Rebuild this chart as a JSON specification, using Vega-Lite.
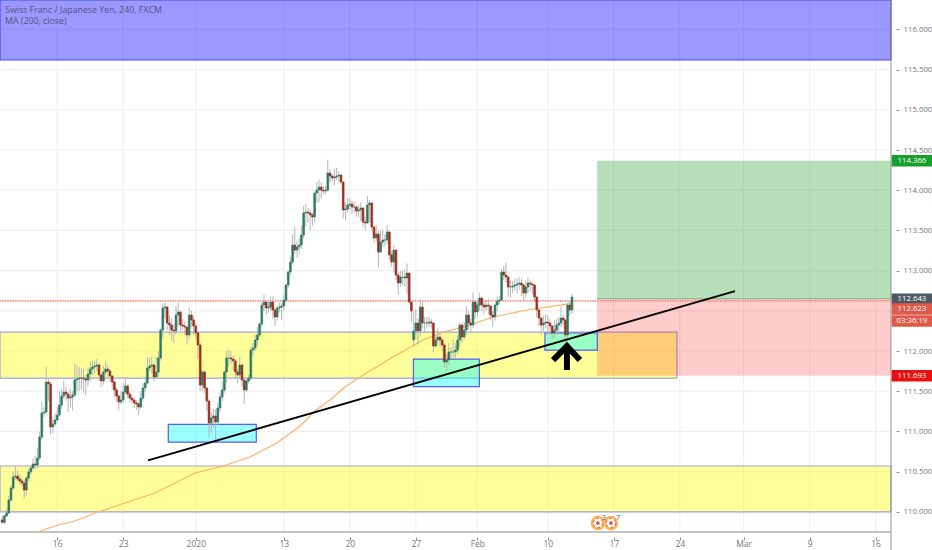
{
  "$schema": "https://vega.github.io/schema/vega-lite/v6.json",
  "width": 932,
  "height": 550,
  "autosize": {"type": "fit", "contains": "padding"},
  "padding": {"left": -5, "top": -5, "right": -5, "bottom": -5},
  "background": "#ffffff",
  "resolve": {"scale": {"color": "independent"}},
  "datasets": {
    "gridX": [
      {"bar": 26, "low": 109.749, "high": 116.366}, {"bar": 56, "low": 109.749, "high": 116.366},
      {"bar": 89, "low": 109.749, "high": 116.366}, {"bar": 129, "low": 109.749, "high": 116.366},
      {"bar": 159, "low": 109.749, "high": 116.366}, {"bar": 189, "low": 109.749, "high": 116.366},
      {"bar": 217, "low": 109.749, "high": 116.366}, {"bar": 249, "low": 109.749, "high": 116.366},
      {"bar": 279, "low": 109.749, "high": 116.366}, {"bar": 309, "low": 109.749, "high": 116.366},
      {"bar": 338, "low": 109.749, "high": 116.366}, {"bar": 368, "low": 109.749, "high": 116.366},
      {"bar": 398, "low": 109.749, "high": 116.366}
    ],
    "gridY": [
      {"price": 110, "start": 0, "end": 405}, {"price": 110.5, "start": 0, "end": 405},
      {"price": 111, "start": 0, "end": 405}, {"price": 111.5, "start": 0, "end": 405},
      {"price": 112, "start": 0, "end": 405}, {"price": 112.5, "start": 0, "end": 405},
      {"price": 113, "start": 0, "end": 405}, {"price": 113.5, "start": 0, "end": 405},
      {"price": 114, "start": 0, "end": 405}, {"price": 114.5, "start": 0, "end": 405},
      {"price": 115, "start": 0, "end": 405}, {"price": 115.5, "start": 0, "end": 405},
      {"price": 116, "start": 0, "end": 405}
    ],
    "zones": [
      {"kind": "blue", "start": 0, "end": 405, "top": 116.366, "bottom": 115.62},
      {"kind": "yellow", "start": 0, "end": 307.7, "top": 112.236, "bottom": 111.664},
      {"kind": "yellow", "start": 0, "end": 405, "top": 110.57, "bottom": 110.0},
      {"kind": "green", "start": 271.4, "end": 405, "top": 114.366, "bottom": 112.643},
      {"kind": "pink", "start": 271.4, "end": 405, "top": 112.643, "bottom": 111.693},
      {"kind": "cyan", "start": 76.5, "end": 116.5, "top": 111.087, "bottom": 110.868},
      {"kind": "cyan", "start": 187.9, "end": 217.9, "top": 111.9, "bottom": 111.556},
      {"kind": "cyan", "start": 247.7, "end": 271.5, "top": 112.224, "bottom": 112.01},
      {"kind": "frame", "start": 404.8, "end": 405.2, "top": 116.366, "bottom": 109.525},
      {"kind": "frame", "start": 0, "end": 405, "top": 109.755, "bottom": 109.743}
    ],
    "levels": [
      {"name": "last", "start": 0, "end": 405, "price": 112.623},
      {"name": "entry", "start": 271.4, "end": 405, "price": 112.65}
    ],
    "ma": [
      {"bar": 17, "price": 109.749}, {"bar": 26.4, "price": 109.836}, {"bar": 34.1, "price": 109.886},
      {"bar": 44.5, "price": 109.998}, {"bar": 56.8, "price": 110.11}, {"bar": 70.5, "price": 110.234},
      {"bar": 79.5, "price": 110.358}, {"bar": 88.6, "price": 110.483}, {"bar": 101.4, "price": 110.57},
      {"bar": 113.6, "price": 110.681}, {"bar": 125.9, "price": 110.856}, {"bar": 136.4, "price": 111.067},
      {"bar": 143.2, "price": 111.254}, {"bar": 150, "price": 111.39}, {"bar": 156.8, "price": 111.552},
      {"bar": 163.6, "price": 111.677}, {"bar": 178.6, "price": 111.925}, {"bar": 192.3, "price": 112.137},
      {"bar": 201.4, "price": 112.236}, {"bar": 210.5, "price": 112.298}, {"bar": 224.1, "price": 112.423},
      {"bar": 239.5, "price": 112.51}, {"bar": 257.7, "price": 112.584}, {"bar": 260, "price": 112.597}
    ],
    "trend": [{"bar": 67.3, "price": 110.64}, {"bar": 334.1, "price": 112.746}],
    "arrow": [
      {"part": "head", "bar": 251.4, "price": 111.888},
      {"part": "head", "bar": 257.7, "price": 112.062},
      {"part": "head", "bar": 263.6, "price": 111.888},
      {"part": "shaft", "bar": 257.7, "price": 112.04},
      {"part": "shaft", "bar": 257.7, "price": 111.764}
    ],
    "tags": [
      {"label": "114.366", "kind": "target", "price": 114.366, "left": 405.3, "right": 423.64, "mid": 414.5},
      {"label": "112.643", "kind": "entry", "price": 112.643, "left": 405.3, "right": 423.64, "mid": 414.5},
      {"label": "112.623", "kind": "last", "price": 112.522, "left": 405.3, "right": 423.64, "mid": 414.5},
      {"label": "03:36:19", "kind": "last", "price": 112.373, "left": 405.3, "right": 423.64, "mid": 414.5},
      {"label": "111.693", "kind": "stop", "price": 111.693, "left": 405.3, "right": 423.64, "mid": 414.5}
    ],
    "captions": [
      {"text": "Swiss Franc / Japanese Yen, 240, FXCM", "bar": 2.3, "price": 116.24},
      {"text": "MA (200, close)", "bar": 2.3, "price": 116.1}
    ],
    "events": [
      {"bar": 271.8, "price": 109.86, "count": "3", "labelBar": 274.5},
      {"bar": 277.7, "price": 109.86, "count": "7", "labelBar": 281}
    ],
    "candles": [
      {"bar":1,"open":109.9,"high":109.95,"low":109.85,"close":109.87},
      {"bar":2,"open":109.87,"high":109.96,"low":109.85,"close":109.95},
      {"bar":3,"open":109.95,"high":110.03,"low":109.93,"close":109.985},
      {"bar":4,"open":109.985,"high":110.2,"low":109.97,"close":110.147},
      {"bar":5,"open":110.147,"high":110.33,"low":110.12,"close":110.296},
      {"bar":6,"open":110.296,"high":110.5,"low":110.27,"close":110.433},
      {"bar":7,"open":110.433,"high":110.56,"low":110.4,"close":110.445},
      {"bar":8,"open":110.445,"high":110.52,"low":110.38,"close":110.408},
      {"bar":9,"open":110.408,"high":110.47,"low":110.34,"close":110.383},
      {"bar":10,"open":110.383,"high":110.43,"low":110.32,"close":110.358},
      {"bar":11,"open":110.358,"high":110.4,"low":110.17,"close":110.27},
      {"bar":12,"open":110.27,"high":110.44,"low":110.2,"close":110.42},
      {"bar":13,"open":110.42,"high":110.53,"low":110.38,"close":110.495},
      {"bar":14,"open":110.495,"high":110.58,"low":110.46,"close":110.545},
      {"bar":15,"open":110.545,"high":110.66,"low":110.52,"close":110.594},
      {"bar":16,"open":110.594,"high":110.7,"low":110.53,"close":110.582},
      {"bar":17,"open":110.582,"high":110.8,"low":110.55,"close":110.669},
      {"bar":18,"open":110.669,"high":111.0,"low":110.64,"close":110.93},
      {"bar":19,"open":110.93,"high":111.37,"low":110.9,"close":111.229},
      {"bar":20,"open":111.229,"high":111.3,"low":111.18,"close":111.241},
      {"bar":21,"open":111.241,"high":111.8,"low":111.2,"close":111.614},
      {"bar":22,"open":111.614,"high":111.66,"low":111.38,"close":111.59},
      {"bar":23,"open":111.59,"high":111.62,"low":110.96,"close":111.055},
      {"bar":24,"open":111.055,"high":111.16,"low":110.98,"close":111.092},
      {"bar":25,"open":111.092,"high":111.22,"low":111.06,"close":111.142},
      {"bar":26,"open":111.142,"high":111.3,"low":111.13,"close":111.204},
      {"bar":27,"open":111.204,"high":111.5,"low":111.18,"close":111.328},
      {"bar":28,"open":111.328,"high":111.52,"low":111.28,"close":111.44},
      {"bar":29,"open":111.44,"high":111.63,"low":111.4,"close":111.49},
      {"bar":30,"open":111.49,"high":111.56,"low":111.38,"close":111.465},
      {"bar":31,"open":111.465,"high":111.5,"low":111.24,"close":111.415},
      {"bar":32,"open":111.415,"high":111.53,"low":111.3,"close":111.428},
      {"bar":33,"open":111.428,"high":111.5,"low":111.26,"close":111.453},
      {"bar":34,"open":111.453,"high":111.84,"low":111.43,"close":111.639},
      {"bar":35,"open":111.639,"high":111.82,"low":111.5,"close":111.652},
      {"bar":36,"open":111.652,"high":111.8,"low":111.5,"close":111.664},
      {"bar":37,"open":111.664,"high":111.78,"low":111.52,"close":111.664},
      {"bar":38,"open":111.664,"high":111.78,"low":111.48,"close":111.652},
      {"bar":39,"open":111.652,"high":111.7,"low":111.45,"close":111.639},
      {"bar":40,"open":111.639,"high":111.8,"low":111.56,"close":111.714},
      {"bar":41,"open":111.714,"high":111.87,"low":111.62,"close":111.776},
      {"bar":42,"open":111.776,"high":111.88,"low":111.7,"close":111.801},
      {"bar":43,"open":111.801,"high":111.88,"low":111.72,"close":111.813},
      {"bar":44,"open":111.813,"high":111.9,"low":111.75,"close":111.826},
      {"bar":45,"open":111.826,"high":111.85,"low":111.63,"close":111.702},
      {"bar":46,"open":111.702,"high":111.72,"low":111.55,"close":111.627},
      {"bar":47,"open":111.627,"high":111.82,"low":111.58,"close":111.739},
      {"bar":48,"open":111.739,"high":111.87,"low":111.7,"close":111.776},
      {"bar":49,"open":111.776,"high":111.83,"low":111.68,"close":111.751},
      {"bar":50,"open":111.751,"high":111.77,"low":111.62,"close":111.689},
      {"bar":51,"open":111.689,"high":111.7,"low":111.53,"close":111.614},
      {"bar":52,"open":111.614,"high":111.63,"low":111.43,"close":111.515},
      {"bar":53,"open":111.515,"high":111.55,"low":111.37,"close":111.44},
      {"bar":54,"open":111.44,"high":111.46,"low":111.26,"close":111.366},
      {"bar":55,"open":111.366,"high":111.5,"low":111.34,"close":111.391},
      {"bar":56,"open":111.391,"high":111.6,"low":111.36,"close":111.49},
      {"bar":57,"open":111.49,"high":111.67,"low":111.46,"close":111.565},
      {"bar":58,"open":111.565,"high":111.58,"low":111.42,"close":111.465},
      {"bar":59,"open":111.465,"high":111.5,"low":111.36,"close":111.415},
      {"bar":60,"open":111.415,"high":111.45,"low":111.35,"close":111.391},
      {"bar":61,"open":111.391,"high":111.42,"low":111.29,"close":111.354},
      {"bar":62,"open":111.354,"high":111.39,"low":111.27,"close":111.341},
      {"bar":63,"open":111.341,"high":111.37,"low":111.2,"close":111.304},
      {"bar":64,"open":111.304,"high":111.5,"low":111.28,"close":111.415},
      {"bar":65,"open":111.415,"high":111.6,"low":111.38,"close":111.54},
      {"bar":66,"open":111.54,"high":111.68,"low":111.5,"close":111.602},
      {"bar":67,"open":111.602,"high":111.92,"low":111.58,"close":111.789},
      {"bar":68,"open":111.789,"high":111.92,"low":111.75,"close":111.813},
      {"bar":69,"open":111.813,"high":111.93,"low":111.72,"close":111.826},
      {"bar":70,"open":111.826,"high":111.85,"low":111.62,"close":111.677},
      {"bar":71,"open":111.677,"high":111.93,"low":111.65,"close":111.739},
      {"bar":72,"open":111.739,"high":112.0,"low":111.68,"close":111.913},
      {"bar":73,"open":111.913,"high":112.28,"low":111.88,"close":112.261},
      {"bar":74,"open":112.261,"high":112.58,"low":112.15,"close":112.535},
      {"bar":75,"open":112.535,"high":112.6,"low":112.4,"close":112.547},
      {"bar":76,"open":112.547,"high":112.56,"low":112.26,"close":112.348},
      {"bar":77,"open":112.348,"high":112.45,"low":112.2,"close":112.323},
      {"bar":78,"open":112.323,"high":112.4,"low":112.13,"close":112.261},
      {"bar":79,"open":112.261,"high":112.33,"low":112.1,"close":112.249},
      {"bar":80,"open":112.249,"high":112.56,"low":112.2,"close":112.448},
      {"bar":81,"open":112.448,"high":112.6,"low":112.3,"close":112.485},
      {"bar":82,"open":112.485,"high":112.5,"low":112.25,"close":112.323},
      {"bar":83,"open":112.323,"high":112.4,"low":112.26,"close":112.311},
      {"bar":84,"open":112.311,"high":112.37,"low":112.2,"close":112.298},
      {"bar":85,"open":112.298,"high":112.3,"low":112.08,"close":112.199},
      {"bar":86,"open":112.199,"high":112.54,"low":112.15,"close":112.448},
      {"bar":87,"open":112.448,"high":112.5,"low":112.3,"close":112.386},
      {"bar":88,"open":112.386,"high":112.43,"low":112.2,"close":112.311},
      {"bar":89,"open":112.311,"high":112.35,"low":112.15,"close":112.224},
      {"bar":90,"open":112.224,"high":112.25,"low":111.9,"close":112.075},
      {"bar":91,"open":112.075,"high":112.1,"low":111.5,"close":111.577},
      {"bar":92,"open":111.577,"high":111.76,"low":111.5,"close":111.739},
      {"bar":93,"open":111.739,"high":111.76,"low":111.48,"close":111.54},
      {"bar":94,"open":111.54,"high":111.55,"low":111.26,"close":111.378},
      {"bar":95,"open":111.378,"high":111.4,"low":110.93,"close":111.104},
      {"bar":96,"open":111.104,"high":111.24,"low":110.98,"close":111.167},
      {"bar":97,"open":111.167,"high":111.28,"low":111.05,"close":111.192},
      {"bar":98,"open":111.192,"high":111.27,"low":110.88,"close":111.117},
      {"bar":99,"open":111.117,"high":111.35,"low":111.08,"close":111.291},
      {"bar":100,"open":111.291,"high":111.48,"low":111.24,"close":111.428},
      {"bar":101,"open":111.428,"high":111.62,"low":111.38,"close":111.515},
      {"bar":102,"open":111.515,"high":111.76,"low":111.48,"close":111.739},
      {"bar":103,"open":111.739,"high":112.0,"low":111.6,"close":111.913},
      {"bar":104,"open":111.913,"high":112.02,"low":111.8,"close":111.913},
      {"bar":105,"open":111.913,"high":112.0,"low":111.84,"close":111.9},
      {"bar":106,"open":111.9,"high":111.94,"low":111.75,"close":111.876},
      {"bar":107,"open":111.876,"high":111.9,"low":111.65,"close":111.739},
      {"bar":108,"open":111.739,"high":111.78,"low":111.6,"close":111.702},
      {"bar":109,"open":111.702,"high":111.93,"low":111.66,"close":111.826},
      {"bar":110,"open":111.826,"high":111.84,"low":111.55,"close":111.639},
      {"bar":111,"open":111.639,"high":111.65,"low":111.34,"close":111.515},
      {"bar":112,"open":111.515,"high":111.66,"low":111.49,"close":111.627},
      {"bar":113,"open":111.627,"high":111.7,"low":111.6,"close":111.664},
      {"bar":114,"open":111.664,"high":112.05,"low":111.64,"close":112.012},
      {"bar":115,"open":112.012,"high":112.1,"low":111.93,"close":112.037},
      {"bar":116,"open":112.037,"high":112.2,"low":112.0,"close":112.137},
      {"bar":117,"open":112.137,"high":112.3,"low":112.06,"close":112.199},
      {"bar":118,"open":112.199,"high":112.36,"low":112.17,"close":112.336},
      {"bar":119,"open":112.336,"high":112.62,"low":112.3,"close":112.572},
      {"bar":120,"open":112.572,"high":112.7,"low":112.5,"close":112.61},
      {"bar":121,"open":112.61,"high":112.62,"low":112.45,"close":112.535},
      {"bar":122,"open":112.535,"high":112.62,"low":112.47,"close":112.547},
      {"bar":123,"open":112.547,"high":112.68,"low":112.5,"close":112.61},
      {"bar":124,"open":112.61,"high":112.68,"low":112.4,"close":112.51},
      {"bar":125,"open":112.51,"high":112.54,"low":112.31,"close":112.423},
      {"bar":126,"open":112.423,"high":112.57,"low":112.38,"close":112.535},
      {"bar":127,"open":112.535,"high":112.6,"low":112.48,"close":112.547},
      {"bar":128,"open":112.547,"high":112.6,"low":112.38,"close":112.56},
      {"bar":129,"open":112.56,"high":112.7,"low":112.5,"close":112.634},
      {"bar":130,"open":112.634,"high":112.83,"low":112.6,"close":112.821},
      {"bar":131,"open":112.821,"high":113.0,"low":112.78,"close":112.983},
      {"bar":132,"open":112.983,"high":113.17,"low":112.95,"close":113.107},
      {"bar":133,"open":113.107,"high":113.45,"low":113.08,"close":113.319},
      {"bar":134,"open":113.319,"high":113.54,"low":113.2,"close":113.256},
      {"bar":135,"open":113.256,"high":113.37,"low":113.16,"close":113.294},
      {"bar":136,"open":113.294,"high":113.4,"low":113.2,"close":113.319},
      {"bar":137,"open":113.319,"high":113.56,"low":113.27,"close":113.443},
      {"bar":138,"open":113.443,"high":113.8,"low":113.4,"close":113.717},
      {"bar":139,"open":113.717,"high":113.83,"low":113.55,"close":113.729},
      {"bar":140,"open":113.729,"high":113.78,"low":113.6,"close":113.717},
      {"bar":141,"open":113.717,"high":113.76,"low":113.5,"close":113.692},
      {"bar":142,"open":113.692,"high":113.72,"low":113.56,"close":113.667},
      {"bar":143,"open":113.667,"high":113.98,"low":113.6,"close":113.965},
      {"bar":144,"open":113.965,"high":114.1,"low":113.84,"close":114.002},
      {"bar":145,"open":114.002,"high":114.13,"low":113.85,"close":114.04},
      {"bar":146,"open":114.04,"high":114.1,"low":113.9,"close":114.002},
      {"bar":147,"open":114.002,"high":114.05,"low":113.95,"close":113.99},
      {"bar":148,"open":113.99,"high":114.05,"low":113.95,"close":114.002},
      {"bar":149,"open":114.002,"high":114.38,"low":113.98,"close":114.214},
      {"bar":150,"open":114.214,"high":114.26,"low":114.1,"close":114.177},
      {"bar":151,"open":114.177,"high":114.2,"low":114.1,"close":114.152},
      {"bar":152,"open":114.152,"high":114.27,"low":114.06,"close":114.164},
      {"bar":153,"open":114.164,"high":114.28,"low":114.12,"close":114.177},
      {"bar":154,"open":114.177,"high":114.24,"low":114.1,"close":114.189},
      {"bar":155,"open":114.189,"high":114.2,"low":114.08,"close":114.102},
      {"bar":156,"open":114.102,"high":114.11,"low":113.65,"close":113.754},
      {"bar":157,"open":113.754,"high":113.85,"low":113.63,"close":113.766},
      {"bar":158,"open":113.766,"high":113.9,"low":113.72,"close":113.816},
      {"bar":159,"open":113.816,"high":113.9,"low":113.75,"close":113.828},
      {"bar":160,"open":113.828,"high":113.87,"low":113.7,"close":113.791},
      {"bar":161,"open":113.791,"high":113.86,"low":113.72,"close":113.791},
      {"bar":162,"open":113.791,"high":113.82,"low":113.67,"close":113.741},
      {"bar":163,"open":113.741,"high":113.82,"low":113.66,"close":113.754},
      {"bar":164,"open":113.754,"high":113.85,"low":113.62,"close":113.779},
      {"bar":165,"open":113.779,"high":113.79,"low":113.55,"close":113.604},
      {"bar":166,"open":113.604,"high":113.67,"low":113.5,"close":113.592},
      {"bar":167,"open":113.592,"high":113.93,"low":113.58,"close":113.816},
      {"bar":168,"open":113.816,"high":113.88,"low":113.6,"close":113.841},
      {"bar":169,"open":113.841,"high":113.85,"low":113.5,"close":113.542},
      {"bar":170,"open":113.542,"high":113.55,"low":113.35,"close":113.406},
      {"bar":171,"open":113.406,"high":113.57,"low":113.36,"close":113.455},
      {"bar":172,"open":113.455,"high":113.5,"low":113.04,"close":113.231},
      {"bar":173,"open":113.231,"high":113.5,"low":113.22,"close":113.356},
      {"bar":174,"open":113.356,"high":113.5,"low":113.3,"close":113.381},
      {"bar":175,"open":113.381,"high":113.45,"low":113.3,"close":113.381},
      {"bar":176,"open":113.381,"high":113.56,"low":113.33,"close":113.48},
      {"bar":177,"open":113.48,"high":113.5,"low":113.14,"close":113.194},
      {"bar":178,"open":113.194,"high":113.24,"low":113.05,"close":113.107},
      {"bar":179,"open":113.107,"high":113.32,"low":112.98,"close":113.256},
      {"bar":180,"open":113.256,"high":113.26,"low":112.88,"close":112.945},
      {"bar":181,"open":112.945,"high":112.98,"low":112.7,"close":112.846},
      {"bar":182,"open":112.846,"high":113.0,"low":112.8,"close":112.92},
      {"bar":183,"open":112.92,"high":113.0,"low":112.82,"close":112.92},
      {"bar":184,"open":112.92,"high":113.02,"low":112.8,"close":112.908},
      {"bar":185,"open":112.908,"high":113.09,"low":112.72,"close":112.97},
      {"bar":186,"open":112.97,"high":112.97,"low":112.58,"close":112.61},
      {"bar":187,"open":112.61,"high":112.6,"low":112.36,"close":112.497},
      {"bar":188,"open":112.137,"high":112.5,"low":112.05,"close":112.249},
      {"bar":189,"open":112.249,"high":112.52,"low":112.15,"close":112.348},
      {"bar":190,"open":112.348,"high":112.4,"low":112.08,"close":112.249},
      {"bar":191,"open":112.249,"high":112.65,"low":112.18,"close":112.547},
      {"bar":192,"open":112.547,"high":112.62,"low":112.28,"close":112.348},
      {"bar":193,"open":112.348,"high":112.42,"low":112.24,"close":112.348},
      {"bar":194,"open":112.348,"high":112.42,"low":112.28,"close":112.348},
      {"bar":195,"open":112.348,"high":112.42,"low":112.3,"close":112.361},
      {"bar":196,"open":112.361,"high":112.4,"low":112.28,"close":112.348},
      {"bar":197,"open":112.348,"high":112.35,"low":111.98,"close":112.062},
      {"bar":198,"open":112.062,"high":112.2,"low":112.04,"close":112.137},
      {"bar":199,"open":112.137,"high":112.28,"low":112.08,"close":112.174},
      {"bar":200,"open":112.174,"high":112.22,"low":112.05,"close":112.137},
      {"bar":201,"open":112.137,"high":112.16,"low":112.0,"close":112.075},
      {"bar":202,"open":112.075,"high":112.1,"low":111.8,"close":111.863},
      {"bar":203,"open":111.863,"high":111.96,"low":111.74,"close":111.888},
      {"bar":204,"open":111.888,"high":112.1,"low":111.82,"close":111.988},
      {"bar":205,"open":111.988,"high":112.05,"low":111.9,"close":111.988},
      {"bar":206,"open":111.988,"high":112.14,"low":111.9,"close":111.988},
      {"bar":207,"open":111.988,"high":112.1,"low":111.92,"close":112.012},
      {"bar":208,"open":112.012,"high":112.2,"low":111.96,"close":112.137},
      {"bar":209,"open":112.137,"high":112.35,"low":112.05,"close":112.323},
      {"bar":210,"open":112.323,"high":112.35,"low":112.1,"close":112.174},
      {"bar":211,"open":112.174,"high":112.36,"low":112.15,"close":112.261},
      {"bar":212,"open":112.261,"high":112.55,"low":112.2,"close":112.448},
      {"bar":213,"open":112.448,"high":112.5,"low":112.27,"close":112.348},
      {"bar":214,"open":112.348,"high":112.4,"low":112.22,"close":112.323},
      {"bar":215,"open":112.323,"high":112.73,"low":112.28,"close":112.61},
      {"bar":216,"open":112.61,"high":112.62,"low":112.4,"close":112.485},
      {"bar":217,"open":112.485,"high":112.62,"low":112.43,"close":112.572},
      {"bar":218,"open":112.572,"high":112.72,"low":112.5,"close":112.659},
      {"bar":219,"open":112.659,"high":112.68,"low":112.5,"close":112.572},
      {"bar":220,"open":112.572,"high":112.62,"low":112.46,"close":112.547},
      {"bar":221,"open":112.547,"high":112.64,"low":112.5,"close":112.572},
      {"bar":222,"open":112.572,"high":112.65,"low":112.46,"close":112.56},
      {"bar":223,"open":112.56,"high":112.56,"low":112.38,"close":112.448},
      {"bar":224,"open":112.448,"high":112.5,"low":112.3,"close":112.423},
      {"bar":225,"open":112.423,"high":112.6,"low":112.38,"close":112.572},
      {"bar":226,"open":112.572,"high":112.68,"low":112.5,"close":112.622},
      {"bar":227,"open":112.622,"high":112.68,"low":112.58,"close":112.634},
      {"bar":228,"open":112.634,"high":113.02,"low":112.62,"close":112.983},
      {"bar":229,"open":112.983,"high":113.06,"low":112.88,"close":112.945},
      {"bar":230,"open":112.945,"high":113.1,"low":112.85,"close":112.92},
      {"bar":231,"open":112.92,"high":112.94,"low":112.68,"close":112.796},
      {"bar":232,"open":112.796,"high":112.88,"low":112.66,"close":112.796},
      {"bar":233,"open":112.796,"high":112.87,"low":112.72,"close":112.808},
      {"bar":234,"open":112.808,"high":112.9,"low":112.75,"close":112.821},
      {"bar":235,"open":112.821,"high":112.9,"low":112.72,"close":112.833},
      {"bar":236,"open":112.833,"high":112.92,"low":112.76,"close":112.846},
      {"bar":237,"open":112.846,"high":112.9,"low":112.68,"close":112.821},
      {"bar":238,"open":112.821,"high":112.84,"low":112.62,"close":112.721},
      {"bar":239,"open":112.721,"high":112.88,"low":112.66,"close":112.796},
      {"bar":240,"open":112.796,"high":112.92,"low":112.72,"close":112.846},
      {"bar":241,"open":112.846,"high":112.88,"low":112.74,"close":112.833},
      {"bar":242,"open":112.833,"high":112.86,"low":112.7,"close":112.821},
      {"bar":243,"open":112.821,"high":112.83,"low":112.6,"close":112.672},
      {"bar":244,"open":112.672,"high":112.68,"low":112.42,"close":112.51},
      {"bar":245,"open":112.51,"high":112.52,"low":112.3,"close":112.41},
      {"bar":246,"open":112.41,"high":112.42,"low":112.2,"close":112.323},
      {"bar":247,"open":112.323,"high":112.44,"low":112.25,"close":112.348},
      {"bar":248,"open":112.348,"high":112.46,"low":112.28,"close":112.361},
      {"bar":249,"open":112.361,"high":112.44,"low":112.2,"close":112.348},
      {"bar":250,"open":112.348,"high":112.4,"low":112.2,"close":112.311},
      {"bar":251,"open":112.311,"high":112.32,"low":112.15,"close":112.224},
      {"bar":252,"open":112.224,"high":112.38,"low":112.16,"close":112.261},
      {"bar":253,"open":112.261,"high":112.4,"low":112.2,"close":112.323},
      {"bar":254,"open":112.323,"high":112.42,"low":112.23,"close":112.348},
      {"bar":255,"open":112.348,"high":112.55,"low":112.3,"close":112.41},
      {"bar":256,"open":112.41,"high":112.45,"low":112.3,"close":112.386},
      {"bar":257,"open":112.386,"high":112.4,"low":112.08,"close":112.199},
      {"bar":258,"open":112.199,"high":112.6,"low":112.12,"close":112.572},
      {"bar":259,"open":112.572,"high":112.62,"low":112.44,"close":112.51},
      {"bar":260,"open":112.51,"high":112.71,"low":112.46,"close":112.672}
    ]
  },
  "encoding": {
    "x": {
      "field": "bar",
      "type": "quantitative",
      "title": null,
      "scale": {"domain": [0, 423.64], "nice": false, "zero": false},
      "axis": {
        "values": [26, 56, 89, 129, 159, 189, 217, 249, 279, 309, 338, 368, 398],
        "labelExpr": "{'26':'16','56':'23','89':'2020','129':'13','159':'20','189':'27','217':'Feb','249':'10','279':'17','309':'24','338':'Mar','368':'9','398':'16'}[datum.value]",
        "offset": -18,
        "zindex": 1,
        "grid": false,
        "domain": false,
        "tickColor": "#8a8a8a",
        "tickSize": 3,
        "labelColor": "#777777",
        "labelFont": "Open Sans",
        "labelFontSize": 8.5,
        "labelPadding": -1,
        "labelOverlap": false,
        "labelFlush": false
      }
    },
    "y": {
      "field": "price",
      "type": "quantitative",
      "title": null,
      "scale": {"domain": [109.525, 116.366], "nice": false, "zero": false},
      "axis": {
        "orient": "right",
        "values": [110, 110.5, 111, 111.5, 112, 112.5, 113, 113.5, 114, 114.5, 115, 115.5, 116],
        "labelExpr": "datum.value == 112.5 ? '' : format(datum.value, '.3f')",
        "offset": -41,
        "zindex": 1,
        "grid": false,
        "domain": false,
        "tickColor": "#8a8a8a",
        "tickSize": 3,
        "labelColor": "#777777",
        "labelFont": "Open Sans",
        "labelFontSize": 7.8,
        "labelPadding": 4,
        "labelOverlap": false
      }
    }
  },
  "layer": [
    {
      "data": {"name": "gridX"},
      "mark": {"type": "rule", "color": "#f0f0f0", "strokeWidth": 1.2},
      "encoding": {
        "y": {"field": "low", "type": "quantitative"},
        "y2": {"field": "high"}
      }
    },
    {
      "data": {"name": "gridY"},
      "mark": {"type": "rule", "color": "#f0f0f0", "strokeWidth": 1.2},
      "encoding": {
        "x": {"field": "start", "type": "quantitative"},
        "x2": {"field": "end"}
      }
    },
    {
      "data": {"name": "zones"},
      "mark": {"type": "rect", "strokeWidth": 1.2},
      "encoding": {
        "x": {"field": "start", "type": "quantitative"},
        "x2": {"field": "end"},
        "y": {"field": "top", "type": "quantitative"},
        "y2": {"field": "bottom"},
        "fill": {
          "field": "kind",
          "type": "nominal",
          "legend": null,
          "scale": {
            "domain": ["blue", "yellow", "green", "pink", "cyan", "frame"],
            "range": ["rgba(0,0,255,0.4)", "rgba(255,255,0,0.4)", "rgba(76,175,80,0.4)", "rgba(255,0,0,0.2)", "rgba(0,255,255,0.4)", "#8a8a8a"]
          }
        },
        "stroke": {
          "field": "kind",
          "type": "nominal",
          "legend": null,
          "scale": {
            "domain": ["blue", "yellow", "green", "pink", "cyan", "frame"],
            "range": ["#4a4ae8", "#a3a3e0", "rgba(0,0,0,0)", "rgba(0,0,0,0)", "#5a5af5", "rgba(0,0,0,0)"]
          }
        }
      }
    },
    {
      "data": {"name": "ma"},
      "mark": {"type": "line", "color": "#ffb061", "strokeWidth": 1.2},
      "encoding": {}
    },
    {
      "data": {"name": "levels"},
      "mark": {"type": "rule", "strokeWidth": 1},
      "encoding": {
        "x": {"field": "start", "type": "quantitative"},
        "x2": {"field": "end"},
        "color": {
          "field": "name",
          "type": "nominal",
          "legend": null,
          "scale": {"domain": ["last", "entry"], "range": ["#f7b5a8", "#8fa88f"]}
        }
      }
    },
    {
      "data": {"name": "levels"},
      "transform": [{"filter": "datum.name == 'last'"}],
      "mark": {"type": "rule", "color": "#e8604c", "strokeWidth": 1, "strokeDash": [1, 1.5]},
      "encoding": {
        "x": {"field": "start", "type": "quantitative"},
        "x2": {"field": "end"}
      }
    },
    {
      "data": {"name": "candles"},
      "mark": {"type": "rule", "color": "#b5b5b5", "strokeWidth": 1},
      "encoding": {
        "y": {"field": "low", "type": "quantitative"},
        "y2": {"field": "high"}
      }
    },
    {
      "data": {"name": "candles"},
      "mark": {"type": "bar", "size": 1.8, "strokeWidth": 0.6},
      "encoding": {
        "y": {"field": "open", "type": "quantitative"},
        "y2": {"field": "close"},
        "fill": {"condition": {"test": "datum.close >= datum.open", "value": "#2a7a62"}, "value": "#9e2b1c"},
        "stroke": {"condition": {"test": "datum.close >= datum.open", "value": "#2a7a62"}, "value": "#9e2b1c"}
      }
    },
    {
      "data": {"name": "trend"},
      "mark": {"type": "line", "color": "#000000", "strokeWidth": 1.8},
      "encoding": {}
    },
    {
      "data": {"name": "arrow"},
      "mark": {"type": "line", "color": "#000000", "strokeWidth": 6},
      "encoding": {"detail": {"field": "part"}}
    },
    {
      "data": {"name": "events"},
      "mark": {"type": "point", "size": 150, "stroke": "#ffb350", "strokeWidth": 2.2, "opacity": 1},
      "encoding": {}
    },
    {
      "data": {"name": "events"},
      "mark": {"type": "point", "size": 90, "stroke": "#e9503f", "strokeWidth": 1, "strokeDash": [3, 2], "opacity": 1},
      "encoding": {}
    },
    {
      "data": {"name": "events"},
      "mark": {"type": "point", "filled": true, "size": 14, "color": "#e9503f", "opacity": 1},
      "encoding": {}
    },
    {
      "data": {"name": "events"},
      "mark": {"type": "text", "fontSize": 7, "font": "Open Sans", "color": "#555555", "dy": -5},
      "encoding": {"x": {"field": "labelBar", "type": "quantitative"}, "text": {"field": "count"}}
    },
    {
      "data": {"name": "captions"},
      "mark": {"type": "text", "align": "left", "font": "Open Sans", "fontSize": 8.8, "color": "#55557a"},
      "encoding": {"text": {"field": "text"}}
    },
    {
      "data": {"name": "tags"},
      "mark": {"type": "bar", "orient": "horizontal", "size": 11.5},
      "encoding": {
        "x": {"field": "left", "type": "quantitative"},
        "x2": {"field": "right"},
        "color": {
          "field": "kind",
          "type": "nominal",
          "legend": null,
          "scale": {
            "domain": ["target", "entry", "last", "stop"],
            "range": ["#18a02c", "#4c5a62", "#e05a4a", "#ea1010"]
          }
        }
      }
    },
    {
      "data": {"name": "tags"},
      "mark": {"type": "text", "font": "Open Sans", "fontSize": 7.8, "color": "#ffffff"},
      "encoding": {"x": {"field": "mid", "type": "quantitative"}, "text": {"field": "label"}}
    }
  ]
}
